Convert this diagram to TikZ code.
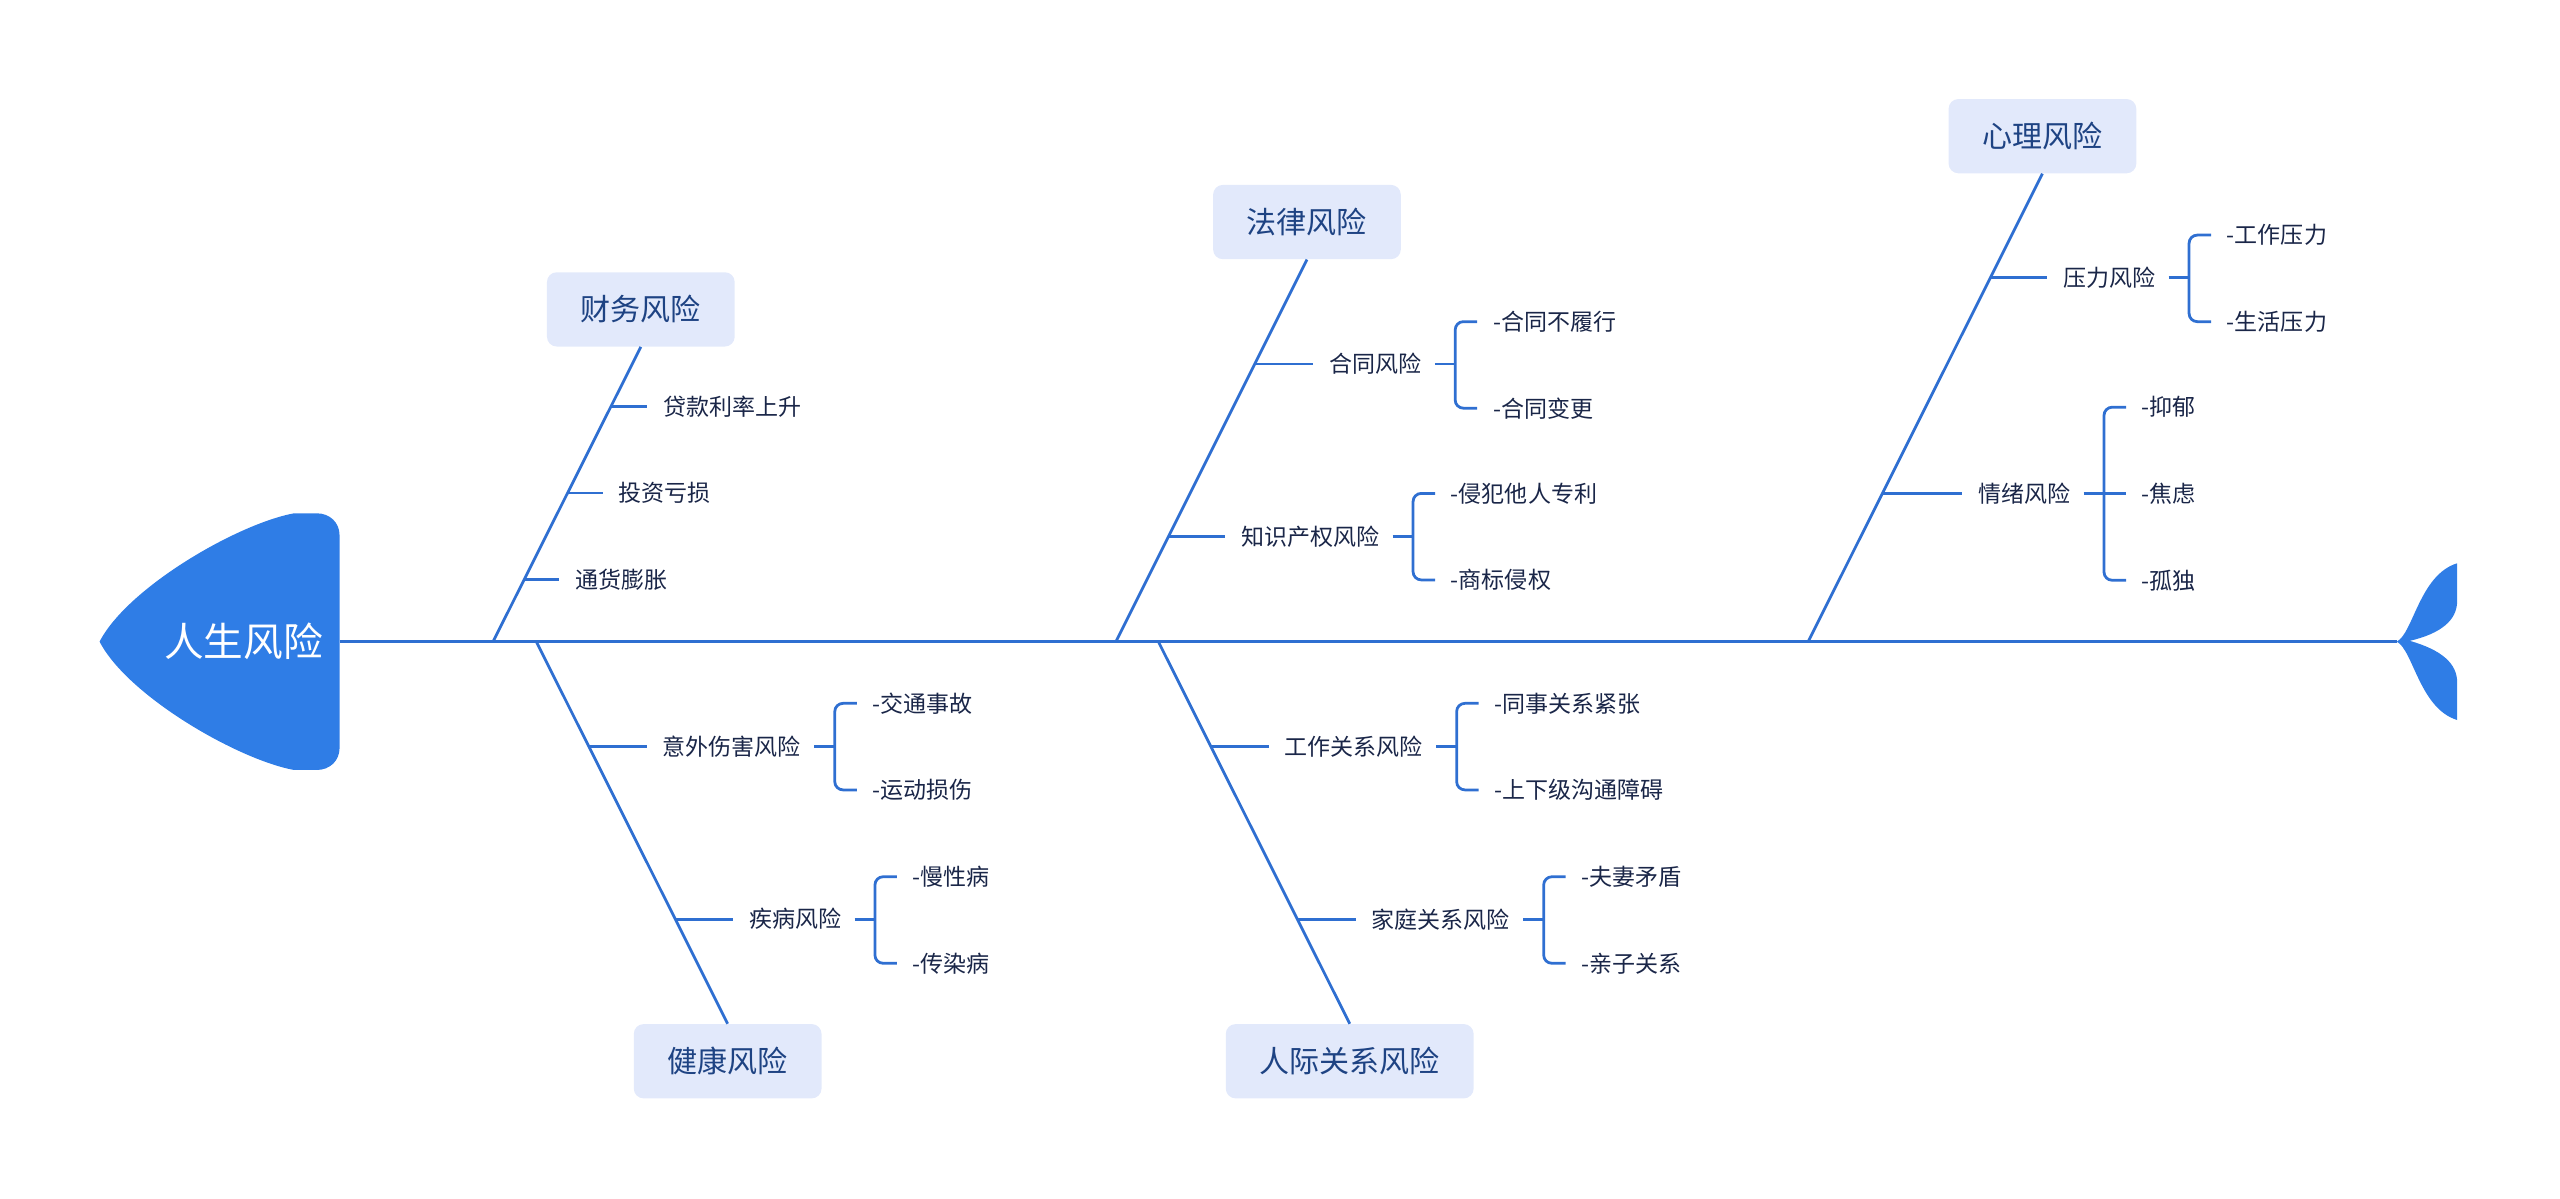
\documentclass[tikz,border=0pt]{standalone}
\usepackage{fontspec}
\setmainfont{Noto Sans CJK SC}
\usetikzlibrary{calc}
\definecolor{lineblue}{HTML}{2F6FD1}
\definecolor{headblue}{HTML}{2F7DE6}
\definecolor{boxfill}{HTML}{E2E9FB}
\definecolor{boxtext}{HTML}{1E4383}
\definecolor{itemtext}{HTML}{1A2648}
\begin{document}
\begin{tikzpicture}[x=1pt,y=-1pt,
  bone/.style={draw=lineblue, line width=1.7pt},
  tick/.style={draw=lineblue, line width=1.7pt, shorten >=9.5pt},
  brk/.style={draw=lineblue, line width=1.7pt, rounded corners=5pt},
  catbox/.style={fill=boxfill, rounded corners=6pt, minimum height=45.5pt, inner xsep=20.7pt, inner ysep=0pt, text=boxtext, font=\fontsize{18.4}{20}\selectfont},
  item/.style={anchor=west, inner xsep=0pt, inner ysep=1pt, text=itemtext, font=\fontsize{14.1}{16}\selectfont},
  headtext/.style={text=white, inner sep=0pt, font=\fontsize{24.3}{26}\selectfont}
]
\useasboundingbox (0,0) rectangle (1568,734);

% head
\fill[headblue] (180,314.4) -- (194,314.4) .. controls (202,314.4) and (208,320) .. (208,328) -- (208,458) .. controls (208,466) and (202,471.6) .. (194,471.6) -- (180,471.6) .. controls (145,465) and (78,426) .. (61,393) .. controls (78,360) and (145,321) .. (180,314.4) -- cycle;
\node[headtext] (head) at (149.2,393) {人生风险};

% spine and tail
\coordinate (hr) at (208,393);
\coordinate (tj) at (1468,393);
\draw[bone] (hr) -- (tj);
\fill[headblue] (tj) .. controls (1478,388) and (1482,352) .. (1505,345) -- (1505,368) .. controls (1505,380) and (1495,388) .. (1476,392.5) .. controls (1495,398) and (1505,406) .. (1505,418) -- (1505,441) .. controls (1482,434) and (1478,398) .. (tj) -- cycle;

% category boxes
\node[catbox] (b1) at (392.5,189.5) {财务风险};
\node[catbox] (b2) at (800.5,136) {法律风险};
\node[catbox] (b3) at (1251,83.4) {心理风险};
\node[catbox] (b4) at (445.7,650) {健康风险};
\node[catbox] (b5) at (826.7,650) {人际关系风险};

% joints on spine
\coordinate (j1) at (302,393);
\coordinate (j2) at (683.5,393);
\coordinate (j3) at (1107.5,393);
\coordinate (j4) at (328.5,393);
\coordinate (j5) at (709.5,393);
\draw[bone] (b1.south) -- (j1);
\draw[bone] (b2.south) -- (j2);
\draw[bone] (b3.south) -- (j3);
\draw[bone] (b4.north) -- (j4);
\draw[bone] (b5.north) -- (j5);

% --- 财务风险
\coordinate (t11) at (374.2,249);
\coordinate (t12) at (347.7,302);
\coordinate (t13) at (321.2,355);
\node[item] (i11) at (406,249) {贷款利率上升};
\node[item] (i12) at (378.7,302) {投资亏损};
\node[item] (i13) at (352,355) {通货膨胀};
\draw[tick] (t11) -- (i11.west);
\draw[tick] (t12) -- (i12.west);
\draw[tick] (t13) -- (i13.west);

% --- 法律风险
\coordinate (t21) at (768.5,223);
\coordinate (t22) at (715.6,328.7);
\node[item] (i21) at (814,223) {合同风险};
\node[item] (i22) at (760,328.7) {知识产权风险};
\draw[tick] (t21) -- (i21.west);
\draw[tick] (t22) -- (i22.west);
\node[item] (c211) at ($(i21.east)+(43.5,-26)$) {-合同不履行};
\node[item] (c212) at ($(i21.east)+(43.5,27)$) {-合同变更};
\node[item] (c221) at ($(i22.east)+(43.5,-26.5)$) {-侵犯他人专利};
\node[item] (c222) at ($(i22.east)+(43.5,26.5)$) {-商标侵权};

% --- 心理风险
\coordinate (t31) at (1219,170);
\coordinate (t32) at (1152.8,302.4);
\node[item] (i31) at (1263.5,170) {压力风险};
\node[item] (i32) at (1211.4,302.4) {情绪风险};
\draw[tick] (t31) -- (i31.west);
\draw[tick] (t32) -- (i32.west);
\node[item] (c311) at ($(i31.east)+(43.5,-26)$) {-工作压力};
\node[item] (c312) at ($(i31.east)+(43.5,27)$) {-生活压力};
\node[item] (c321) at ($(i32.east)+(43.5,-53)$) {-抑郁};
\node[item] (c322) at ($(i32.east)+(43.5,0)$) {-焦虑};
\node[item] (c323) at ($(i32.east)+(43.5,53)$) {-孤独};

% --- 健康风险
\coordinate (t41) at (360.6,457.3);
\coordinate (t42) at (413.5,563);
\node[item] (i41) at (405.8,457.3) {意外伤害风险};
\node[item] (i42) at (458.6,563) {疾病风险};
\draw[tick] (t41) -- (i41.west);
\draw[tick] (t42) -- (i42.west);
\node[item] (c411) at ($(i41.east)+(43.5,-26.5)$) {-交通事故};
\node[item] (c412) at ($(i41.east)+(43.5,26.5)$) {-运动损伤};
\node[item] (c421) at ($(i42.east)+(43.5,-26)$) {-慢性病};
\node[item] (c422) at ($(i42.east)+(43.5,27)$) {-传染病};

% --- 人际关系风险
\coordinate (t51) at (741.6,457.3);
\coordinate (t52) at (794.5,563);
\node[item] (i51) at (786.7,457.3) {工作关系风险};
\node[item] (i52) at (840,563) {家庭关系风险};
\draw[tick] (t51) -- (i51.west);
\draw[tick] (t52) -- (i52.west);
\node[item] (c511) at ($(i51.east)+(43.5,-26.5)$) {-同事关系紧张};
\node[item] (c512) at ($(i51.east)+(43.5,26.5)$) {-上下级沟通障碍};
\node[item] (c521) at ($(i52.east)+(43.5,-26)$) {-夫妻矛盾};
\node[item] (c522) at ($(i52.east)+(43.5,27)$) {-亲子关系};

% brackets (two children)
\foreach \p/\a/\b in {i21/c211/c212, i22/c221/c222, i31/c311/c312, i41/c411/c412, i42/c421/c422, i51/c511/c512, i52/c521/c522}{
  \draw[bone] ($(\p.east)+(8,0)$) -- ($(\p.east)+(20.5,0)$);
  \draw[brk] ($(\a.west)+(-9.5,0)$) -- ($(\a.west)+(-23,0)$) -- ($(\b.west)+(-23,0)$) -- ($(\b.west)+(-9.5,0)$);
}
% bracket (three children)
\draw[bone] ($(i32.east)+(8,0)$) -- ($(c322.west)+(-9.5,0)$);
\draw[brk] ($(c321.west)+(-9.5,0)$) -- ($(c321.west)+(-23,0)$) -- ($(c323.west)+(-23,0)$) -- ($(c323.west)+(-9.5,0)$);

\end{tikzpicture}
\end{document}
